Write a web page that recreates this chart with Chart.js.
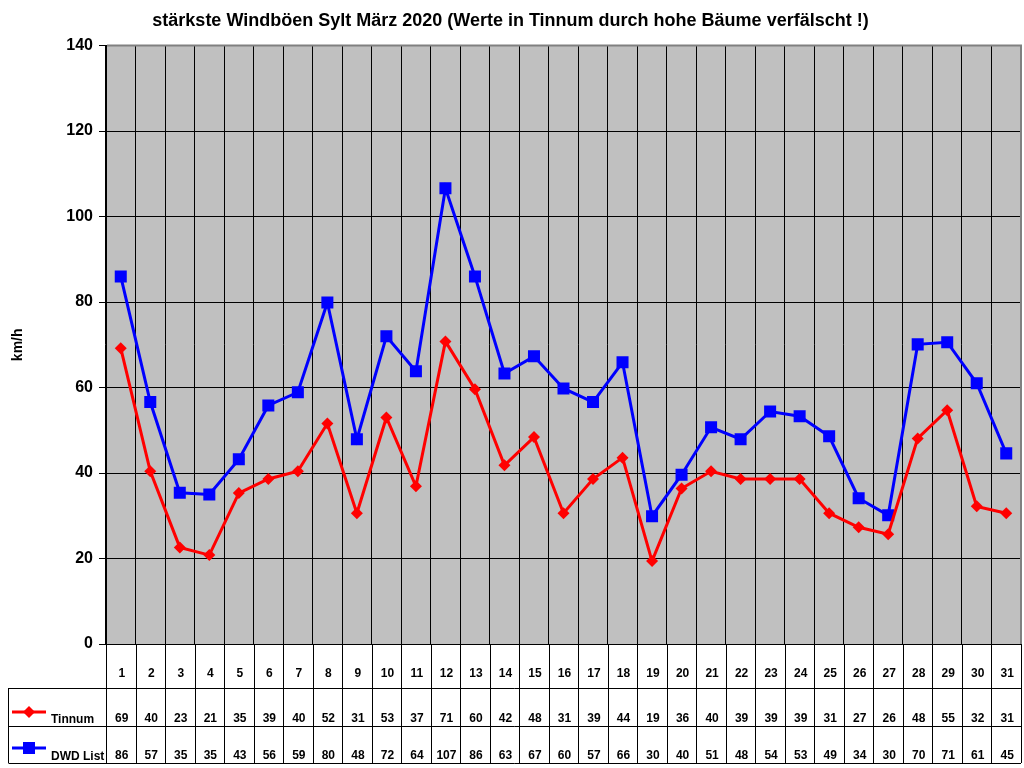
<!DOCTYPE html>
<html>
<head>
<meta charset="utf-8">
<title>Windböen Sylt März 2020</title>
<script src="https://cdn.jsdelivr.net/npm/chart.js@4/dist/chart.umd.min.js"></script>
<style>
  body { margin: 0; background: #fff; }
  canvas { display: block; }
</style>
</head>
<body>
<canvas id="chart" width="1024" height="768"></canvas>
<script>
const days = ['1','2','3','4','5','6','7','8','9','10','11','12','13','14','15','16',
  '17','18','19','20','21','22','23','24','25','26','27','28','29','30','31'];

// values (table below shows them rounded)
const tinnum = [69.2, 40.4, 22.6, 20.8, 35.3, 38.6, 40.4, 51.6, 30.6, 53.0, 36.9, 70.8, 59.6, 41.8, 48.4, 30.6,
  38.6, 43.6, 19.4, 36.4, 40.4, 38.6, 38.6, 38.6, 30.6, 27.3, 25.7, 48.1, 54.7, 32.2, 30.6];
const dwdList = [86.0, 56.6, 35.4, 35.0, 43.2, 55.8, 58.9, 79.9, 47.9, 72.0, 63.8, 106.6, 86.0, 63.3, 67.3, 59.8,
  56.6, 65.9, 29.9, 39.6, 50.7, 47.9, 54.4, 53.3, 48.6, 34.1, 30.1, 70.1, 70.6, 61.0, 44.6];

const yTicks = [0, 20, 40, 60, 80, 100, 120, 140];

const tableFont = "bold 12px 'Liberation Sans Narrow', 'Liberation Sans', Arial, sans-serif";

// grey plot background + grey top/right frame
const plotBackground = {
    id: 'plotBackground',
    beforeDraw(chart) {
        const a = chart.chartArea;
        const ctx = chart.ctx;
        ctx.save();
        ctx.fillStyle = '#C0C0C0';
        ctx.fillRect(a.left, a.top, a.right - a.left, a.bottom - a.top);
        ctx.restore();
    },
    beforeDatasetsDraw(chart) {
        const a = chart.chartArea;
        const ctx = chart.ctx;
        ctx.save();
        ctx.strokeStyle = '#808080';
        ctx.lineWidth = 2;
        ctx.beginPath();
        ctx.moveTo(a.left + 1, a.top);
        ctx.lineTo(a.right, a.top);
        ctx.lineTo(a.right, a.bottom);
        ctx.stroke();
        ctx.restore();
    }
};

// data table under the plot
const dataTable = {
    id: 'dataTable',
    afterDraw(chart) {
        const ctx = chart.ctx;
        const x = chart.scales.x;
        const a = chart.chartArea;
        const top = a.bottom;
        const row1 = 688, row2 = 726, bottom = 763;
        const half = (x.getPixelForValue(1) - x.getPixelForValue(0)) / 2;
        const left = 8.5;

        ctx.save();
        ctx.strokeStyle = '#000';
        ctx.lineWidth = 1;
        ctx.beginPath();
        for (let i = 0; i <= days.length; i++) {
            const px = Math.round(x.getPixelForValue(0) - half + i * half * 2) + 0.5;
            ctx.moveTo(px, top);
            ctx.lineTo(px, bottom);
        }
        [row1, row2, bottom].forEach(y => {
            ctx.moveTo(left, y + 0.5);
            ctx.lineTo(a.right, y + 0.5);
        });
        ctx.moveTo(left, row1);
        ctx.lineTo(left, bottom);
        ctx.stroke();

        ctx.font = tableFont;
        ctx.fillStyle = '#000';
        ctx.textAlign = 'center';
        ctx.textBaseline = 'alphabetic';
        days.forEach((d, i) => {
            const px = x.getPixelForValue(i) + 1;
            ctx.fillText(d, px, 677);
            ctx.fillText(String(Math.round(tinnum[i])), px, 722);
            ctx.fillText(String(Math.round(dwdList[i])), px, 759);
        });

        // legend keys
        ctx.lineWidth = 3;
        ctx.strokeStyle = '#FF0000';
        ctx.beginPath();
        ctx.moveTo(12, 712);
        ctx.lineTo(46, 712);
        ctx.stroke();
        ctx.fillStyle = '#FF0000';
        ctx.beginPath();
        ctx.moveTo(23, 712);
        ctx.lineTo(29, 706);
        ctx.lineTo(35, 712);
        ctx.lineTo(29, 718);
        ctx.closePath();
        ctx.fill();

        ctx.strokeStyle = '#0000FF';
        ctx.beginPath();
        ctx.moveTo(12, 748);
        ctx.lineTo(46, 748);
        ctx.stroke();
        ctx.fillStyle = '#0000FF';
        ctx.fillRect(23, 742, 12, 12);

        ctx.fillStyle = '#000';
        ctx.textAlign = 'left';
        ctx.fillText('Tinnum', 51, 723);
        ctx.fillText('DWD List', 51, 760);
        ctx.restore();
    }
};

const ctx = document.getElementById('chart').getContext('2d');
new Chart(ctx, {
    type: 'line',
    data: {
        labels: days,
        datasets: [{
            label: 'Tinnum',
            data: tinnum,
            borderColor: '#FF0000',
            backgroundColor: '#FF0000',
            borderWidth: 3,
            pointStyle: 'rectRot',
            pointRadius: 6,
            pointBorderWidth: 0,
            tension: 0
        }, {
            label: 'DWD List',
            data: dwdList,
            borderColor: '#0000FF',
            backgroundColor: '#0000FF',
            borderWidth: 3,
            pointStyle: 'rect',
            pointRadius: 8.5,
            pointBorderWidth: 0,
            tension: 0
        }]
    },
    options: {
        responsive: false,
        animation: false,
        devicePixelRatio: 1,
        layout: { autoPadding: false, padding: { left: 0, right: 3, top: 0, bottom: 124 } },
        plugins: {
            legend: { display: false },
            tooltip: { enabled: false },
            title: {
                display: true,
                text: 'stärkste Windböen Sylt März 2020 (Werte in Tinnum durch hohe Bäume verfälscht !)',
                color: '#000',
                font: { family: "'Liberation Sans', Arial, sans-serif", size: 18, weight: 'bold', lineHeight: 1.2 },
                padding: { top: 10, bottom: 14 }
            }
        },
        scales: {
            x: {
                offset: true,
                grid: { offset: true, color: '#000', lineWidth: 1, drawTicks: false },
                border: { display: true, color: '#000', width: 1 },
                ticks: { display: false },
                afterFit(scale) { scale.height = 0; }
            },
            y: {
                min: 0,
                max: 140,
                afterBuildTicks(scale) { scale.ticks = yTicks.map(v => ({ value: v })); },
                grid: { color: '#000', lineWidth: 1, tickLength: 7, tickColor: '#000' },
                border: { display: true, color: '#000', width: 1 },
                ticks: {
                    color: '#000',
                    padding: 6,
                    font: { family: "'Liberation Sans', Arial, sans-serif", size: 16, weight: 'bold' }
                },
                title: {
                    display: true,
                    text: 'km/h',
                    color: '#000',
                    font: { family: "'Liberation Sans', Arial, sans-serif", size: 14, weight: 'bold' },
                    padding: { top: 10, bottom: 0 }
                },
                afterFit(scale) { scale.width = 106; }
            }
        }
    },
    plugins: [plotBackground, dataTable]
});
</script>
</body>
</html>
